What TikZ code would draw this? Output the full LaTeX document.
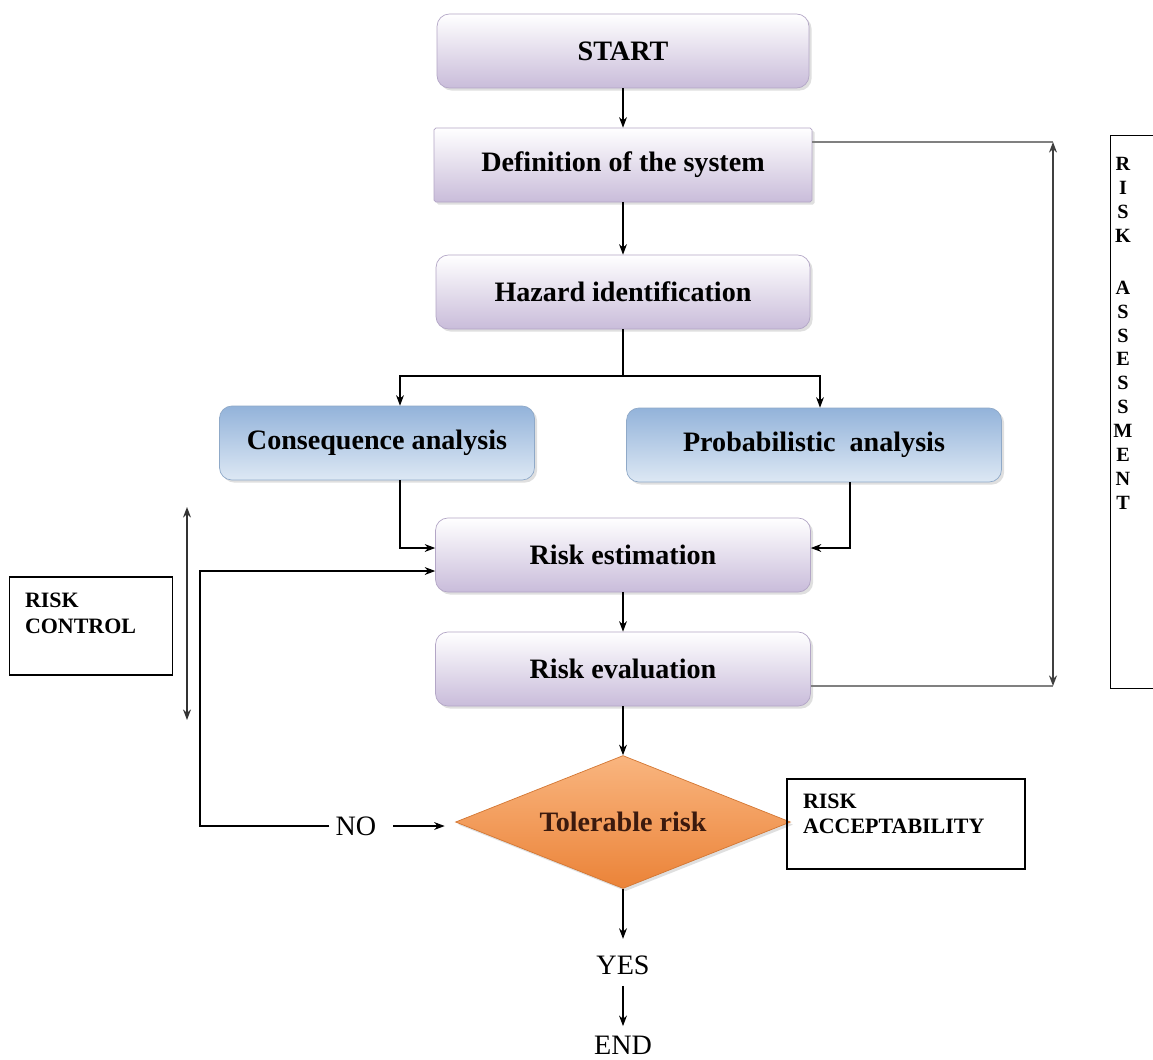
\documentclass[tikz,border=0pt]{standalone}
\usepackage{fontspec}
\setmainfont{Liberation Serif}
\usepackage{tikz}
\usetikzlibrary{calc, shapes.geometric, positioning, arrows.meta, shadows}

\definecolor{lilac}{HTML}{C9BCDA}
\definecolor{lilacedge}{HTML}{B3A6C6}
\definecolor{steel}{HTML}{93B3DA}
\definecolor{paleblue}{HTML}{DDE8F4}
\definecolor{tangerine}{HTML}{EB8338}
\definecolor{peach}{HTML}{F9B57F}
\definecolor{darkbrown}{HTML}{3B1A0E}

\tikzset{
    procbox/.style={rectangle, rounded corners=7pt, minimum width=7.5cm, minimum height=1.48cm,
        top color=white, bottom color=lilac, draw=lilacedge,
        drop shadow={opacity=0.25, shadow xshift=1.5pt, shadow yshift=-1.5pt},
        font=\fontsize{16}{19}\selectfont\bfseries},
    analysisbox/.style={procbox, top color=steel, bottom color=paleblue, draw=steel!80!gray},
    decision/.style={diamond, aspect=2.5, minimum width=6.7cm, minimum height=2.66cm, inner sep=0pt,
        top color=peach, bottom color=tangerine, draw=tangerine!90!black,
        drop shadow={opacity=0.25, shadow xshift=1.5pt, shadow yshift=-1.5pt},
        font=\fontsize{16}{19}\selectfont\bfseries, text=darkbrown},
    tagbox/.style={rectangle, draw, line width=0.8pt, align=left, inner sep=0pt},
    plainword/.style={font=\fontsize{16}{19}\selectfont},
    flow/.style={->, line width=0.6pt},
    link/.style={line width=0.6pt},
}

\begin{document}
\begin{tikzpicture}[x=0.02cm, y=-0.02cm, >={Stealth[length=6pt, width=4.5pt]}]

    % cadre de l'image
    \clip (0,0) rectangle (1153,1059);
    \fill[white] (0,0) rectangle (1153,1059);

    % =================================================================
    % 1. LES BLOCS DU PROCESSUS
    % =================================================================
    \node[procbox, minimum width=7.44cm] (start) at (623,51) {START};
    \node[procbox, rounded corners=1pt, minimum width=7.56cm] (def) at (623,165) {Definition of the system};
    \node[procbox, minimum width=7.48cm] (haz) at (623,292) {Hazard identification};

    \node[analysisbox, minimum width=6.3cm] (cons) at (377,443) {Consequence analysis};
    \node[analysisbox] (prob) at (814,445) {Probabilistic\ \ analysis};

    \node[procbox] (est) at (623,555) {Risk estimation};
    \node[procbox] (eval) at (623,669) {Risk evaluation};

    \node[decision] (tol) at (623,822) {Tolerable risk};

    % mots isoles
    \node[plainword] (no) at (356,826) {NO};
    \node[plainword] (yes) at (623,965) {YES};
    \node[plainword] (end) at (623,1045) {END};

    % =================================================================
    % 2. LES CADRES LATERAUX
    % =================================================================
    \node[tagbox, minimum width=3.26cm, minimum height=1.96cm, text width=2.64cm,
          font=\fontsize{12.5}{14.5}\selectfont\bfseries] (ctl) at (91,626) {RISK\\CONTROL\\\mbox{}};
    \node[tagbox, minimum width=4.76cm, minimum height=1.8cm, text width=4.12cm,
          font=\fontsize{12.5}{14.5}\selectfont\bfseries] (accept) at (906,824) {RISK\\ACCEPTABILITY\\[-3pt]\mbox{}};

    \node[tagbox, anchor=north west, minimum width=1.4cm, minimum height=11.06cm] (assess) at (1110,135) {};
    \node[anchor=north, align=center, inner sep=0pt,
          font=\fontsize{11.5}{13.6}\selectfont\bfseries] (assesstxt) at (1123,157)
          {R\\I\\S\\K\\[16pt]A\\S\\S\\E\\S\\S\\M\\E\\N\\T};

    % =================================================================
    % 3. LES LIAISONS
    % =================================================================
    \coordinate (split) at (623,376);
    \coordinate (loopcorner) at (200,826);
    \coordinate (ctltop) at (187,507);
    \coordinate (ctlbot) at (187,720);
    \coordinate (asstop) at (1053,142);
    \coordinate (assbot) at (1053,686);

    \draw[flow] (start) -- (def);
    \draw[flow] (def) -- (haz);
    \draw[link] (haz) -- (split);
    \draw[flow] (split) -| ($(cons.north)+(23,0)$);
    \draw[flow] (split) -| ($(prob.north)+(6,0)$);

    \draw[flow] ($(cons.south)+(23,0)$) |- ($(est.west)+(0,-7)$);
    \draw[flow] ($(prob.south)+(36,0)$) |- ($(est.east)+(0,-7)$);
    \draw[flow] (est) -- (eval);
    \draw[flow] (eval) -- (tol);

    % boucle NO
    \draw[flow] (no.west) -- (loopcorner) |- ($(est.west)+(0,16)$);
    \draw[flow, shorten <=6pt, shorten >=6pt] (no.east) -- (no.east -| tol.west);

    % sortie YES
    \draw[flow, shorten >=6pt] (tol.south) -- (yes.north);
    \draw[flow, shorten <=3pt, shorten >=2pt] (yes.south) -- (end.north);

    % fleches doubles des cadres
    \draw[<->, line width=0.9pt, black!80] (ctltop) -- (ctlbot);
    \draw[link, gray] ($(def.east)+(0,-23)$) -- (asstop);
    \draw[link, gray] ($(eval.east)+(0,17)$) -- (assbot);
    \draw[<->, line width=1.1pt, black!75] (asstop) -- (assbot);

\end{tikzpicture}
\end{document}
